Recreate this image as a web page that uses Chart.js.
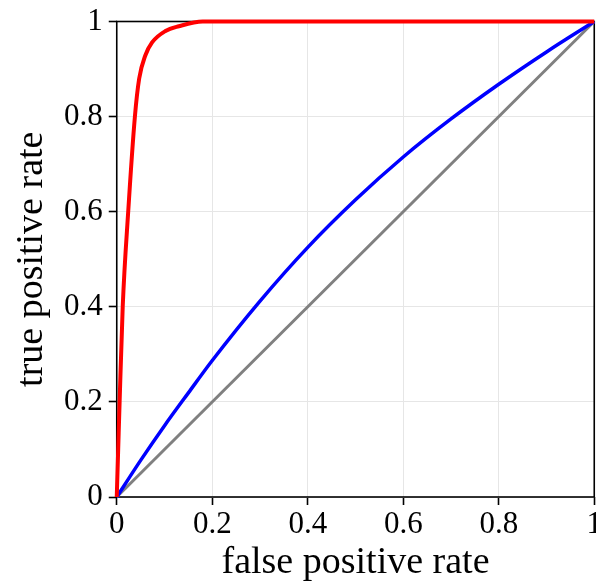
<!DOCTYPE html>
<html>
<head>
<meta charset="utf-8">
<script src="https://cdn.jsdelivr.net/npm/chart.js@4/dist/chart.umd.min.js"></script>
<style>
  html, body { margin: 0; padding: 0; background: #fff; overflow: hidden; }
  #wrap { width: 606px; height: 582px; }
</style>
</head>
<body>
<div id="wrap"><canvas id="roc" width="606" height="582"></canvas></div>
<script>
// values
const redFpr  = [0, 0.003, 0.006, 0.0125, 0.024, 0.038, 0.047, 0.06, 0.074, 0.102, 0.13, 0.18, 1];
const redTpr  = [0, 0.1,   0.2,   0.4,    0.6,   0.8,   0.88,  0.929, 0.956, 0.98, 0.99, 1,    1];
const blueFpr = [0, 0.05,  0.1,  0.15,  0.2,   0.3,   0.4,   0.5,   0.6,   0.7,   0.8,   0.9,   1];
const blueTpr = [0, 0.077, 0.15, 0.219, 0.287, 0.412, 0.525, 0.625, 0.715, 0.795, 0.868, 0.936, 1];
const diagFpr = [0, 1];
const diagTpr = [0, 1];
const tickValues = [0, 0.2, 0.4, 0.6, 0.8, 1];

function toPoints(xs, ys) {
    return xs.map((x, i) => ({ x: x, y: ys[i] }));
}

const serif = 'Liberation Serif';

// full black frame round the plot, under the curves
const frame = {
    id: 'frame',
    beforeDatasetsDraw(chart) {
        const a = chart.chartArea;
        const c = chart.ctx;
        c.save();
        c.strokeStyle = '#000';
        c.lineWidth = 1.6;
        c.strokeRect(a.left, a.top, a.right - a.left, a.bottom - a.top);
        c.restore();
    }
};

function axis(title, pad, titlePad) {
    return {
        type: 'linear',
        min: 0,
        max: 1,
        afterBuildTicks: s => { s.ticks = tickValues.map(v => ({ value: v })); },
        ticks: {
            color: '#000',
            font: { family: serif, size: 31, lineHeight: 1.0 },
            padding: pad,
            callback: v => String(v)
        },
        grid: {
            color: '#e6e6e6',
            lineWidth: 1,
            tickColor: '#000',
            tickLength: 8,
            tickWidth: 1.6
        },
        border: { display: false },
        title: {
            display: true,
            text: title,
            color: '#000',
            font: { family: serif, size: 38, lineHeight: 1.0 },
            padding: { top: 0, bottom: titlePad }
        }
    };
}

new Chart(document.getElementById('roc'), {
    type: 'scatter',
    data: {
        datasets: [
            { data: toPoints(redFpr, redTpr), borderColor: '#ff0000', borderWidth: 4 },
            { data: toPoints(blueFpr, blueTpr), borderColor: '#0000ff', borderWidth: 3.5 },
            { data: toPoints(diagFpr, diagTpr), borderColor: '#808080', borderWidth: 3 }
        ].map(d => Object.assign(d, {
            showLine: true,
            pointRadius: 0,
            fill: false,
            cubicInterpolationMode: 'monotone',
            clip: 6
        }))
    },
    options: {
        responsive: false,
        animation: false,
        devicePixelRatio: 1,
        layout: { padding: { left: 13, top: 17, right: 0, bottom: 0 } },
        plugins: { legend: { display: false }, tooltip: { enabled: false } },
        scales: {
            x: axis('false positive rate', 4, 0),
            y: axis('true positive rate', 6, 7)
        }
    },
    plugins: [frame]
});
</script>
</body>
</html>
